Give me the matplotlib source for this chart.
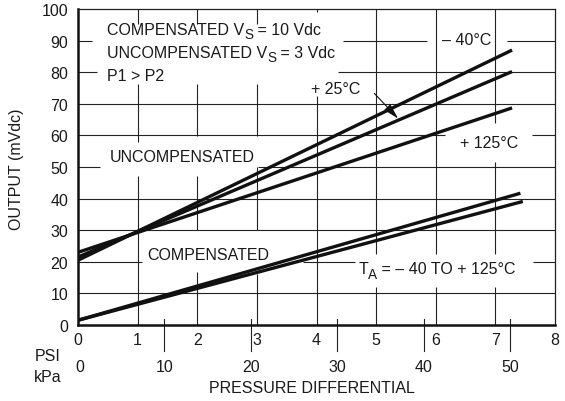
import matplotlib
matplotlib.use("Agg")
import matplotlib.pyplot as plt
from matplotlib.transforms import IdentityTransform

# ---------------- data ----------------
psi_ticks = [0, 1, 2, 3, 4, 5, 6, 7, 8]
kpa_ticks = [0, 10, 20, 30, 40, 50]
y_ticks = [0, 10, 20, 30, 40, 50, 60, 70, 80, 90, 100]

unc_psi = [0.0, 7.28]
unc_m40 = [20.5, 87.0]     # -40 C
unc_p25 = [21.5, 80.2]     # +25 C
unc_p125 = [23.0, 68.7]    # +125 C

comp_psi_a = [0.0, 7.42]
comp_a = [1.5, 41.7]
comp_psi_b = [0.0, 7.46]
comp_b = [1.5, 39.1]

KPA_PER_PSI = 6.894757

# ---------------- style ----------------
plt.rcParams['font.family'] = ['Liberation Sans', 'DejaVu Sans']
FS = 11.5
TC = '#1a1a1a'
CAP = 11.7      # cap height in px
SUBOFF = 4.5    # subscript drop in px

fig = plt.figure(figsize=(5.65, 4.02), dpi=100)
ax = fig.add_axes([78 / 565, 76 / 402, 477 / 565, 316 / 402])
ax.set_xlim(0, 8)
ax.set_ylim(0, 100)

# grid with gaps where labels sit (psi / mV coordinates)
GC = '#222222'
GLW = 0.8
hgaps = {
    10: [], 20: [(1.07, 3.78), (4.65, 7.63)], 30: [], 40: [],
    50: [(0.37, 3.02)], 60: [(6.16, 7.62)], 70: [],
    80: [(0.32, 4.36)], 90: [(0.23, 4.45), (5.86, 7.20)],
}
vgaps = {
    1: [(76.3, 95.3), (47.2, 57.9)],
    2: [(76.3, 95.3), (47.2, 59.8), (16.8, 30.1)],
    3: [(76.3, 95.3), (50.0, 59.8), (16.1, 30.1)],
    4: [(72.5, 99.0)],
    5: [(12.0, 22.5)],
    6: [(12.0, 22.5)],
    7: [(51.6, 63.9), (12.0, 22.5)],
}


def segments(lo, hi, gaps):
    segs, start = [], lo
    for a, b in sorted(gaps):
        segs.append((start, a))
        start = b
    segs.append((start, hi))
    return segs


for yv, gaps in hgaps.items():
    for a, b in segments(0, 8, gaps):
        ax.plot([a, b], [yv, yv], color=GC, lw=GLW, zorder=1, solid_capstyle='butt')
for xv, gaps in vgaps.items():
    for a, b in segments(0, 100, gaps):
        ax.plot([xv, xv], [a, b], color=GC, lw=GLW, zorder=1, solid_capstyle='butt')

# data lines
LW = 2.4
for yvals in (unc_m40, unc_p25, unc_p125):
    ax.plot(unc_psi, yvals, color='#111111', lw=LW, zorder=3, solid_capstyle='butt')
ax.plot(comp_psi_a, comp_a, color='#111111', lw=LW, zorder=3, solid_capstyle='butt')
ax.plot(comp_psi_b, comp_b, color='#111111', lw=LW, zorder=3, solid_capstyle='butt')

# spines
for s in ('left', 'bottom'):
    ax.spines[s].set_linewidth(1.8)
    ax.spines[s].set_color('#111111')
for s in ('top', 'right'):
    ax.spines[s].set_linewidth(0.9)
    ax.spines[s].set_color(GC)

# y ticks
ax.set_yticks(y_ticks)
ax.set_yticklabels([str(v) for v in y_ticks], fontsize=FS, color=TC)
ax.tick_params(axis='y', length=0, pad=7)

# x ticks (psi)
ax.set_xticks(psi_ticks)
ax.set_xticklabels([str(v) for v in psi_ticks], fontsize=FS, color=TC)
ax.tick_params(axis='x', length=0, pad=5)

# kPa secondary labels + ticks
xt = ax.get_xaxis_transform()
for k in kpa_ticks:
    p = k / KPA_PER_PSI
    ax.text(p + (0.03 if k == 0 else 0), -0.130, str(k), transform=xt, ha='center', va='center',
            fontsize=FS, color=TC)
    if k > 0:
        ax.plot([p, p], [1.9, -8.2], color=GC, lw=GLW, clip_on=False, zorder=2)

renderer = fig.canvas.get_renderer()


def rich(xd, yd, parts, ha='left'):
    """Draw text pieces; parts = [(text, is_subscript)]; (xd, yd) = caps centre."""
    px, py = ax.transData.transform((xd, yd))
    base = py - CAP / 2
    cur = px
    objs = []
    for s, sub in parts:
        t = fig.text(cur, base - (SUBOFF if sub else 0), s, transform=IdentityTransform(),
                     fontsize=FS * 0.85 if sub else FS, va='baseline', ha='left', color=TC)
        cur += t.get_window_extent(renderer).width
        objs.append(t)
    if ha == 'center':
        shift = (cur - px) / 2
        for t in objs:
            x0, y0 = t.get_position()
            t.set_position((x0 - shift, y0))


# in-plot labels
rich(0.49, 94.0, [('COMPENSATED V', False), ('S', True), (' = 10 Vdc', False)])
rich(0.49, 86.7, [('UNCOMPENSATED V', False), ('S', True), (' = 3 Vdc', False)])
rich(0.49, 79.4, [('P1 > P2', False)])
rich(6.52, 90.8, [('\u2013 40°C', False)], ha='center')
rich(4.32, 75.4, [('+ 25°C', False)], ha='center')
rich(6.89, 58.3, [('+ 125°C', False)], ha='center')
rich(1.75, 53.8, [('UNCOMPENSATED', False)], ha='center')
rich(2.19, 22.7, [('COMPENSATED', False)], ha='center')
rich(6.02, 18.3, [('T', False), ('A', True), (' = \u2013 40 TO + 125°C', False)], ha='center')

ax.annotate('', xy=(5.37, 65.3), xytext=(4.97, 73.3),
            arrowprops=dict(arrowstyle='-|>,head_length=0.95,head_width=0.25',
                            mutation_scale=10, color='#111111', lw=0.8,
                            shrinkA=0, shrinkB=0), zorder=4)

# axis titles
fig.text(48 / 565, 1 - 357 / 402, 'PSI', fontsize=FS, color=TC, ha='center', va='center')
fig.text(48 / 565, 1 - 378 / 402, 'kPa', fontsize=FS, color=TC, ha='center', va='center')
fig.text(312 / 565, 1 - 389 / 402, 'PRESSURE DIFFERENTIAL', fontsize=FS, color=TC,
         ha='center', va='center')
fig.text(17 / 565, 1 - 169 / 402, 'OUTPUT (mVdc)', fontsize=FS, color=TC,
         ha='center', va='center', rotation=90)

fig.savefig('out.png', dpi=100)
